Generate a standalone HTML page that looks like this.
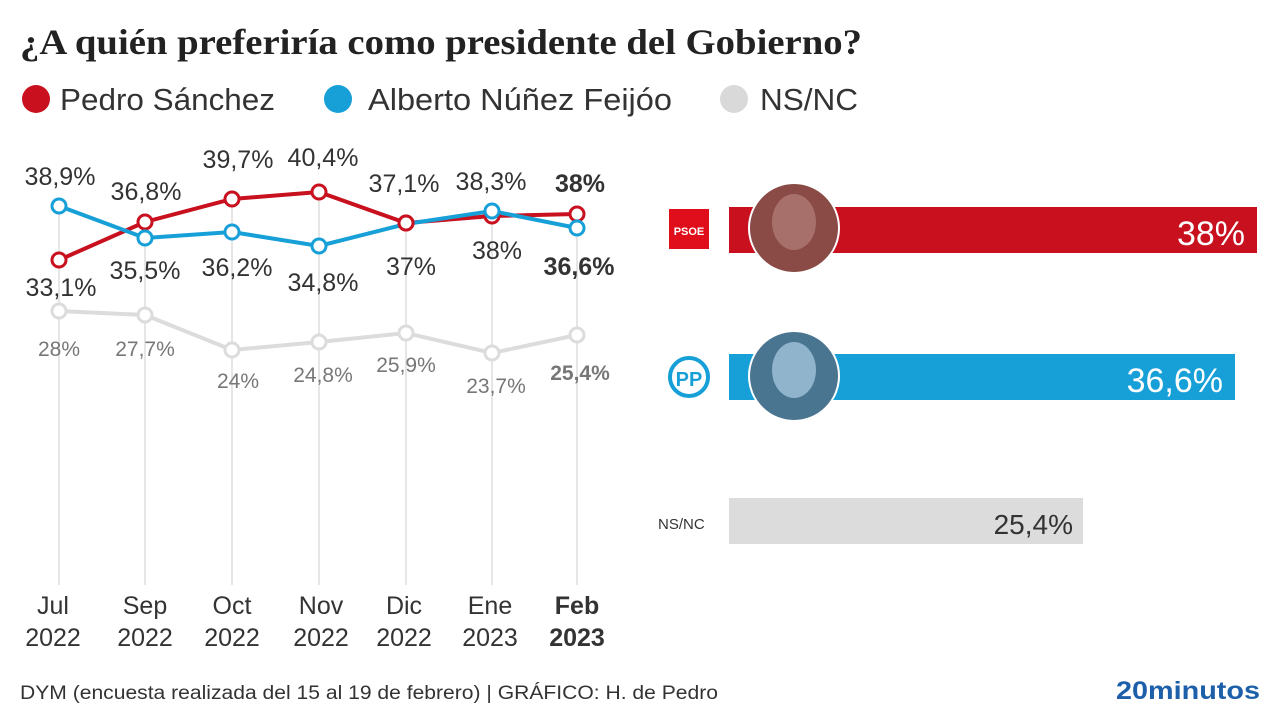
<!DOCTYPE html>
<html><head><meta charset="utf-8"><style>
body{margin:0;width:1280px;height:720px;background:#fff;overflow:hidden;font-family:"Liberation Sans",sans-serif;}
</style></head><body>
<svg width="1280" height="720" xmlns="http://www.w3.org/2000/svg" font-family="Liberation Sans, sans-serif">
<text x="20" y="54" font-family="Liberation Serif, serif" font-weight="bold" font-size="36" fill="#222" textLength="842" lengthAdjust="spacingAndGlyphs">¿A quién preferiría como presidente del Gobierno?</text>
<circle cx="36" cy="99" r="14" fill="#c8101e"/><text x="60" y="110" font-size="31" fill="#333" textLength="215" lengthAdjust="spacingAndGlyphs">Pedro Sánchez</text>
<circle cx="338" cy="99" r="14" fill="#17a0d8"/><text x="368" y="110" font-size="31" fill="#333" textLength="304" lengthAdjust="spacingAndGlyphs">Alberto Núñez Feijóo</text>
<circle cx="734" cy="99" r="14" fill="#d9d9d9"/><text x="760" y="110" font-size="31" fill="#333" textLength="98" lengthAdjust="spacingAndGlyphs">NS/NC</text>
<g stroke="#ddd" stroke-width="1.5">
<line x1="59" y1="210" x2="59" y2="585"/><line x1="145" y1="225" x2="145" y2="585"/><line x1="232" y1="200" x2="232" y2="585"/><line x1="319" y1="195" x2="319" y2="585"/><line x1="406" y1="225" x2="406" y2="585"/><line x1="492" y1="215" x2="492" y2="585"/><line x1="577" y1="215" x2="577" y2="585"/>
</g>
<g fill="none" stroke-width="4">
<polyline stroke="#dcdcdc" points="59,311 145,315 232,350 319,342 406,333 492,353 577,335"/>
<polyline stroke="#c8101e" points="59,260 145,222 232,199 319,192 406,223 492,216 577,214"/>
<polyline stroke="#17a0d8" points="59,206 145,238 232,232 319,246 406,224 492,211 577,228"/>
</g>
<g fill="#fff" stroke-width="3">
<g stroke="#dcdcdc"><circle cx="59" cy="311" r="7"/><circle cx="145" cy="315" r="7"/><circle cx="232" cy="350" r="7"/><circle cx="319" cy="342" r="7"/><circle cx="406" cy="333" r="7"/><circle cx="492" cy="353" r="7"/><circle cx="577" cy="335" r="7"/></g>
<g stroke="#c8101e"><circle cx="59" cy="260" r="7"/><circle cx="145" cy="222" r="7"/><circle cx="232" cy="199" r="7"/><circle cx="319" cy="192" r="7"/><circle cx="406" cy="223" r="7"/><circle cx="492" cy="216" r="7"/><circle cx="577" cy="214" r="7"/></g>
<g stroke="#17a0d8"><circle cx="59" cy="206" r="7"/><circle cx="145" cy="238" r="7"/><circle cx="232" cy="232" r="7"/><circle cx="319" cy="246" r="7"/><circle cx="492" cy="211" r="7"/><circle cx="577" cy="228" r="7"/></g>
<circle stroke="#c8101e" cx="406" cy="223" r="7"/>
</g>
<g font-size="25" fill="#333" text-anchor="middle">
<text x="60" y="185">38,9%</text><text x="146" y="200">36,8%</text><text x="238" y="168">39,7%</text><text x="323" y="166">40,4%</text><text x="404" y="192">37,1%</text><text x="491" y="190">38,3%</text><text x="580" y="192" font-weight="bold">38%</text>
<text x="61" y="296">33,1%</text><text x="145" y="279">35,5%</text><text x="237" y="276">36,2%</text><text x="323" y="291">34,8%</text><text x="411" y="275">37%</text><text x="497" y="259">38%</text><text x="579" y="275" font-weight="bold">36,6%</text>
</g>
<g font-size="21" fill="#777" text-anchor="middle">
<text x="59" y="356">28%</text><text x="145" y="356">27,7%</text><text x="238" y="388">24%</text><text x="323" y="382">24,8%</text><text x="406" y="372">25,9%</text><text x="496" y="393">23,7%</text><text x="580" y="380" font-weight="bold">25,4%</text>
</g>
<g font-size="25" fill="#333" text-anchor="middle">
<text x="53" y="614">Jul</text><text x="53" y="646">2022</text>
<text x="145" y="614">Sep</text><text x="145" y="646">2022</text>
<text x="232" y="614">Oct</text><text x="232" y="646">2022</text>
<text x="321" y="614">Nov</text><text x="321" y="646">2022</text>
<text x="404" y="614">Dic</text><text x="404" y="646">2022</text>
<text x="490" y="614">Ene</text><text x="490" y="646">2023</text>
<g font-weight="bold"><text x="577" y="614">Feb</text><text x="577" y="646">2023</text></g>
</g>
<rect x="729" y="207" width="528" height="46" fill="#c8101e"/>
<rect x="729" y="354" width="506" height="46" fill="#17a0d8"/>
<rect x="729" y="498" width="354" height="46" fill="#dcdcdc"/>
<g font-size="34" fill="#fff" text-anchor="end"><text x="1245" y="245">38%</text><text x="1223" y="392">36,6%</text></g>
<text x="1073" y="534" font-size="28" fill="#333" text-anchor="end">25,4%</text>
<circle cx="794" cy="228" r="45" fill="#8a4a46" stroke="#fff" stroke-width="2"/>
<circle cx="794" cy="376" r="45" fill="#4a7590" stroke="#fff" stroke-width="2"/>
<ellipse cx="794" cy="222" rx="22" ry="28" fill="#a8706a"/>
<ellipse cx="794" cy="370" rx="22" ry="28" fill="#8fb4cc"/>
<rect x="669" y="209" width="40" height="40" fill="#e00d1b"/>
<text x="689" y="235" font-size="11" font-weight="bold" fill="#fff" text-anchor="middle">PSOE</text>
<circle cx="689" cy="377" r="19" fill="#fff" stroke="#17a0d8" stroke-width="4"/>
<text x="689" y="386" font-size="20" font-weight="bold" fill="#17a0d8" text-anchor="middle">PP</text>
<text x="658" y="529" font-size="15" fill="#333">NS/NC</text>
<text x="20" y="699" font-size="19" fill="#333" textLength="698" lengthAdjust="spacingAndGlyphs">DYM (encuesta realizada del 15 al 19 de febrero)   |  GRÁFICO: H. de Pedro</text>
<text x="1116" y="699" font-size="25" font-weight="bold" fill="#1d5fa8" textLength="144" lengthAdjust="spacingAndGlyphs">20minutos</text>
</svg>
</body></html>
